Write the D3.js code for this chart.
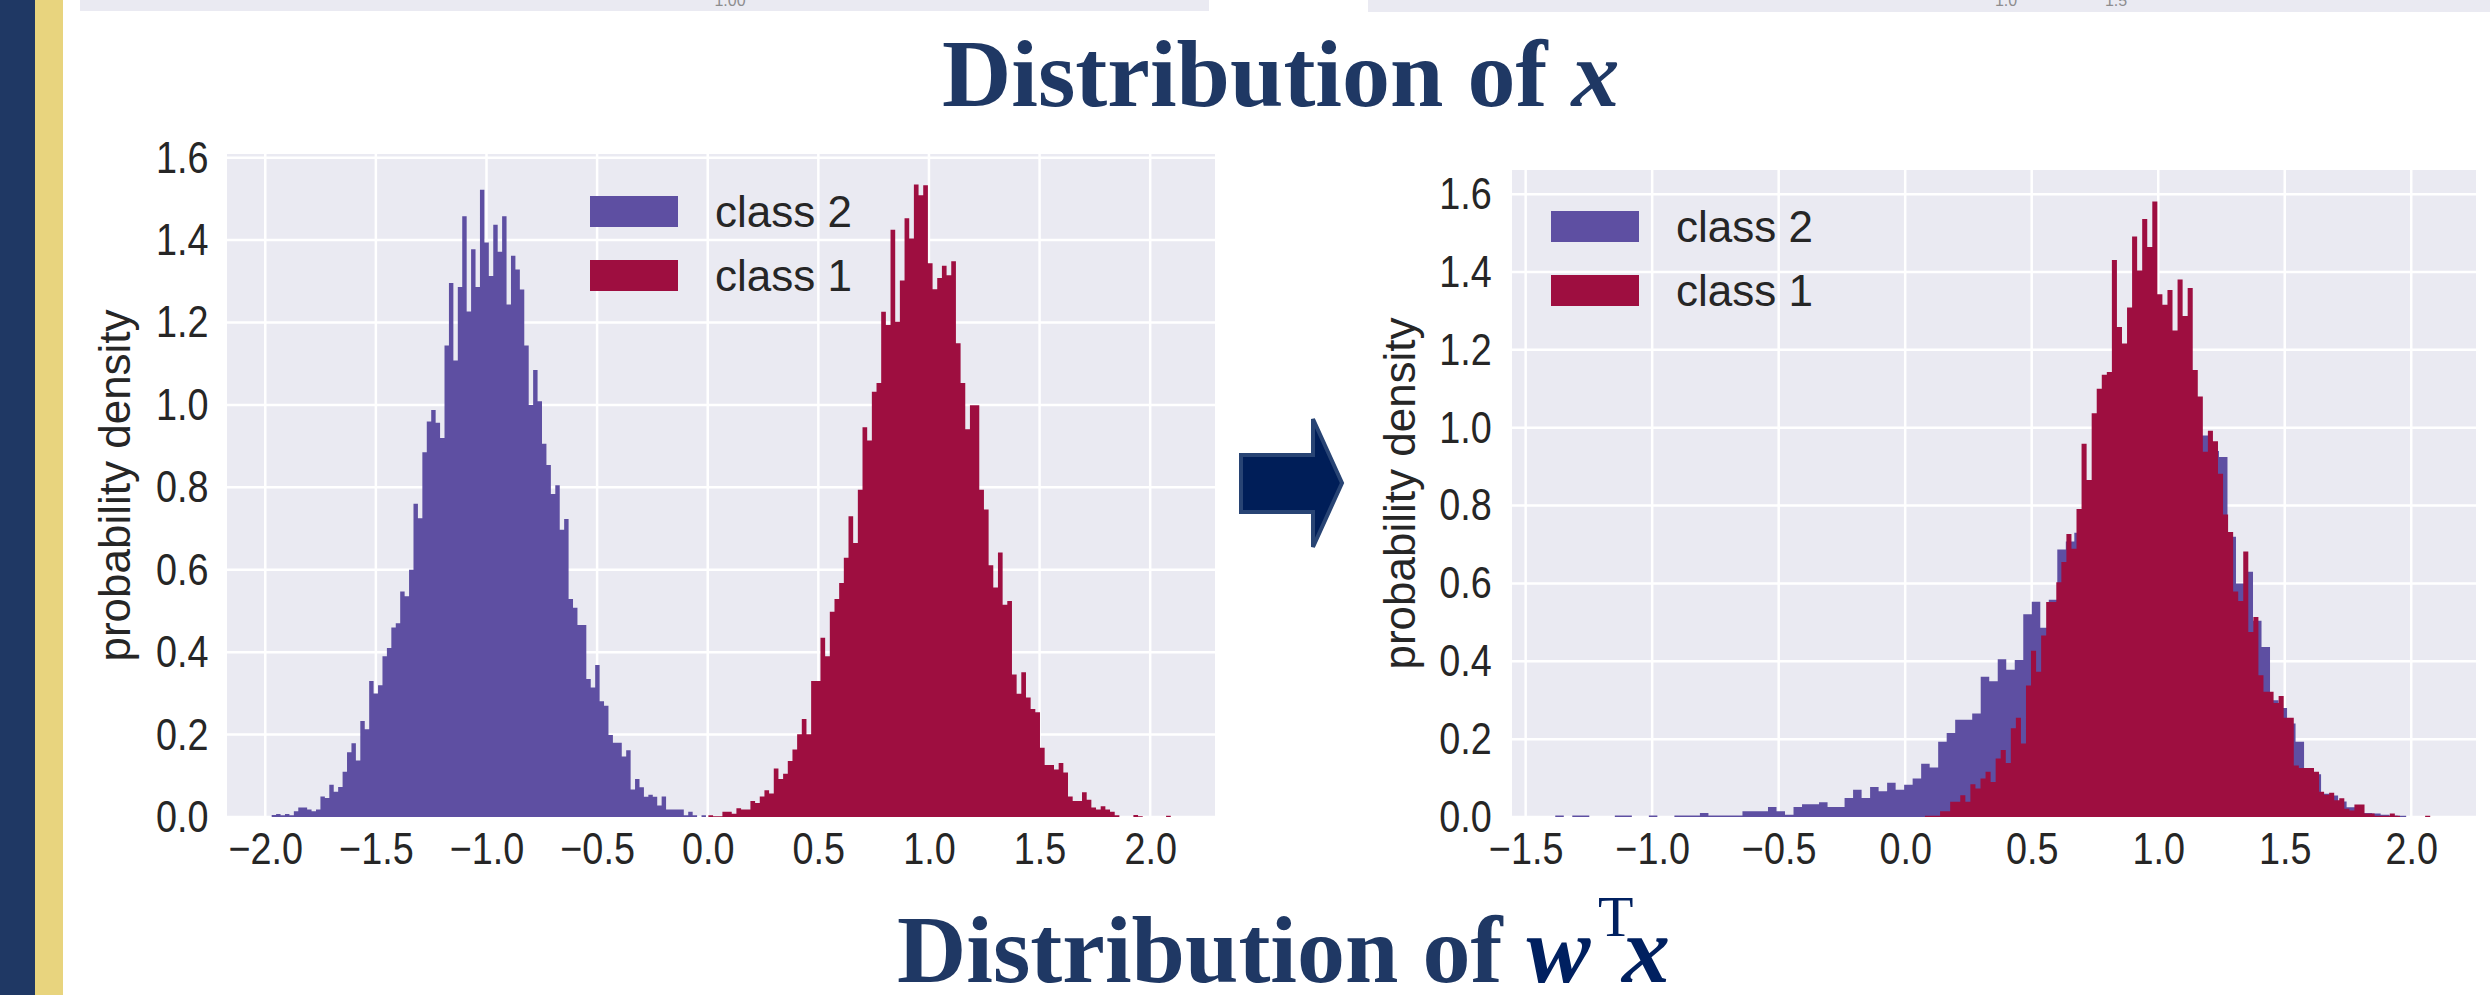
<!DOCTYPE html>
<html>
<head>
<meta charset="utf-8">
<script src="https://cdn.jsdelivr.net/npm/d3@7"></script>
<style>
  body { margin: 0; background: #fff; }
  svg { display: block; }
  .tick text { font-family: "Liberation Sans", Arial, sans-serif; fill: #262626; }
</style>
</head>
<body>
<div id="chart"></div>
<script>
////////////////////////////////////////////////////////////////////
////////////////////////////  Data  ////////////////////////////////
// histogram heights (density), bins evenly spread over each range
const leftClass2Range = [-1.971, -0.008];
const leftClass2 = [
  0.005, 0.007, 0.004, 0.007, 0.004, 0.014, 0.023, 0.023, 0.018, 0.014,
  0.018, 0.05, 0.046, 0.078, 0.061, 0.073, 0.11, 0.157, 0.179, 0.137,
  0.233, 0.213, 0.33, 0.3, 0.32, 0.39, 0.41, 0.46, 0.47, 0.547,
  0.536, 0.6, 0.76, 0.725, 0.885, 0.96, 0.988, 0.957, 0.92, 1.144,
  1.296, 1.108, 1.286, 1.458, 1.227, 1.378, 1.286, 1.522, 1.394, 1.313,
  1.437, 1.372, 1.458, 1.244, 1.362, 1.329, 1.28, 1.144, 1.0, 1.085,
  1.009, 0.906, 0.854, 0.784, 0.805, 0.697, 0.723, 0.529, 0.508, 0.466,
  0.466, 0.335, 0.314, 0.369, 0.281, 0.27, 0.199, 0.18, 0.18, 0.147,
  0.162, 0.067, 0.092, 0.072, 0.049, 0.054, 0.049, 0.028, 0.05, 0.018,
  0.018, 0.018, 0.018, 0.004, 0.013, 0.004, 0, 0.004
];

const leftClass1Range = [0.003, 2.093];
const leftClass1 = [
  0.004, 0.002, 0.002, 0.013, 0.013, 0.008, 0.021, 0.018, 0.018, 0.039,
  0.034, 0.05, 0.065, 0.057, 0.118, 0.092, 0.105, 0.136, 0.164, 0.201,
  0.238, 0.201, 0.33, 0.33, 0.435, 0.39, 0.498, 0.529, 0.568, 0.629,
  0.73, 0.665, 0.794, 0.946, 0.914, 1.032, 1.053, 1.226, 1.194, 1.425,
  1.202, 1.302, 1.453, 1.404, 1.535, 1.509, 1.533, 1.344, 1.281, 1.308,
  1.338, 1.315, 1.349, 1.15, 1.053, 0.941, 0.999, 0.999, 0.794, 0.746,
  0.611, 0.557, 0.642, 0.515, 0.524, 0.346, 0.299, 0.351, 0.29, 0.262,
  0.254, 0.168, 0.126, 0.126, 0.115, 0.131, 0.108, 0.05, 0.039, 0.039,
  0.06, 0.042, 0.023, 0.018, 0.026, 0.018, 0.013, 0.004, 0, 0,
  0, 0.005, 0.002, 0, 0, 0, 0, 0, 0.003
];

const rightClass2Range = [-1.383, 1.98];
const rightClass2 = [
  0.004, 0, 0.004, 0.004, 0, 0, 0, 0.004, 0.004, 0,
  0, 0.004, 0, 0, 0.004, 0.004, 0.004, 0.01, 0.004, 0.004,
  0.004, 0.004, 0.015, 0.015, 0.015, 0.026, 0.015, 0.006, 0.026, 0.033,
  0.033, 0.038, 0.026, 0.026, 0.049, 0.07, 0.049, 0.077, 0.066, 0.088,
  0.07, 0.083, 0.099, 0.137, 0.127, 0.193, 0.216, 0.25, 0.25, 0.266,
  0.36, 0.349, 0.405, 0.378, 0.403, 0.521, 0.553, 0.486, 0.558, 0.687,
  0.708, 0.73, 0.82, 0.85, 0.95, 1.0, 1.05, 1.1, 1.15, 1.15,
  1.15, 1.12, 1.1, 1.08, 1.05, 1.0, 0.98, 0.94, 0.925, 0.72,
  0.6, 0.63, 0.504, 0.437, 0.3, 0.28, 0.24, 0.193, 0.12, 0.11,
  0.06, 0.055, 0.04, 0.025, 0.015, 0.01, 0.009, 0.006, 0.004, 0.003
];

const rightClass1Range = [0.078, 2.075];
const rightClass1 = [
  0.003, 0.003, 0.003, 0.015, 0.015, 0.039, 0.039, 0.056, 0.039, 0.084,
  0.073, 0.099, 0.116, 0.09, 0.15, 0.172, 0.139, 0.228, 0.255, 0.189,
  0.338, 0.427, 0.373, 0.466, 0.552, 0.552, 0.603, 0.655, 0.727, 0.689,
  0.791, 0.959, 0.866, 1.037, 1.1, 1.136, 1.143, 1.431, 1.259, 1.216,
  1.309, 1.491, 1.404, 1.536, 1.464, 1.581, 1.343, 1.316, 1.354, 1.25,
  1.381, 1.287, 1.359, 1.148, 1.08, 0.938, 0.992, 0.965, 0.882, 0.777,
  0.732, 0.579, 0.555, 0.682, 0.475, 0.514, 0.364, 0.322, 0.322, 0.293,
  0.311, 0.255, 0.255, 0.132, 0.126, 0.126, 0.126, 0.116, 0.065, 0.057,
  0.062, 0.043, 0.048, 0.021, 0.017, 0.032, 0.032, 0.009, 0.009, 0.003,
  0.003, 0.003, 0.009, 0.003, 0, 0, 0, 0, 0, 0.003
];

const yTicks = [0, 0.2, 0.4, 0.6, 0.8, 1.0, 1.2, 1.4, 1.6];
const leftXTicks = [-2, -1.5, -1, -0.5, 0, 0.5, 1, 1.5, 2];
const rightXTicks = [-1.5, -1, -0.5, 0, 0.5, 1, 1.5, 2];
const legendLabels = ["class 2", "class 1"];
const colors = { c2: "#5e4fa2", c1: "#9e0e40" };

////////////////////////////////////////////////////////////////////
////////////////////////////  Init  ////////////////////////////////
const W = 2490, H = 995;
const svg = d3.select("#chart").append("svg").attr("width", W).attr("height", H);
svg.append("rect").attr("width", W).attr("height", H).attr("fill", "#fff");

const sans = '"Liberation Sans", Arial, sans-serif';
const serif = '"Liberation Serif", "Times New Roman", serif';

// slide decoration: side bars
svg.append("rect").attr("x", 0).attr("y", 0).attr("width", 35).attr("height", H).attr("fill", "#1f3864");
svg.append("rect").attr("x", 35).attr("y", 0).attr("width", 28).attr("height", H).attr("fill", "#e8d47e");

// remnants of previous figure at the very top (cut off in the slide)
svg.append("rect").attr("x", 80).attr("y", 0).attr("width", 1129).attr("height", 11).attr("fill", "#eaeaf2");
svg.append("rect").attr("x", 1368).attr("y", 0).attr("width", 1122).attr("height", 12).attr("fill", "#eaeaf2");
[["1.00", 730], ["1.0", 2006], ["1.5", 2116]].forEach(([t, px]) => {
  svg.append("text").attr("x", px).attr("y", 6).attr("text-anchor", "middle")
    .attr("font-family", sans).attr("font-size", 16).attr("fill", "#666").attr("opacity", 0.7).text(t);
});

// titles
const title1 = svg.append("text").attr("x", 942).attr("y", 106)
  .attr("font-family", serif).attr("font-size", 96).attr("font-weight", "bold").attr("fill", "#1f3864");
title1.append("tspan").text("Distribution of ");
title1.append("tspan").attr("font-style", "italic").text("x");

const title2 = svg.append("text").attr("x", 897).attr("y", 982)
  .attr("font-family", serif).attr("font-size", 96).attr("font-weight", "bold").attr("fill", "#1f3864");
title2.append("tspan").text("Distribution of ");
title2.append("tspan").attr("font-style", "italic").attr("fill", "#002060").text("w");
title2.append("tspan").attr("x", 1598).attr("y", 936).attr("font-size", 58).attr("font-weight", "normal")
  .attr("fill", "#002060").text("T");
title2.append("tspan").attr("x", 1622).attr("y", 982).attr("font-style", "italic").attr("fill", "#002060").text("x");

// arrow between panels
svg.append("polygon")
  .attr("points", "1241,455 1313,455 1313,419 1342,483 1313,547 1313,512 1241,512")
  .attr("fill", "#001e58").attr("stroke", "#284474").attr("stroke-width", 4).attr("stroke-linejoin", "miter");

////////////////////////////////////////////////////////////////////
////////////////////////////  Panels  //////////////////////////////
function drawPanel(cfg) {
  const g = svg.append("g");
  const x = d3.scaleLinear().domain(cfg.xDomain).range([cfg.left, cfg.right]);
  const y = d3.scaleLinear().domain(cfg.yDomain).range([cfg.bottom, cfg.top]);

  g.append("rect")
    .attr("x", cfg.left).attr("y", cfg.top)
    .attr("width", cfg.right - cfg.left).attr("height", cfg.bottom - cfg.top)
    .attr("fill", "#eaeaf2");

  // grid
  g.selectAll(".vgrid").data(cfg.xTicks).join("line")
    .attr("x1", d => x(d)).attr("x2", d => x(d))
    .attr("y1", cfg.top).attr("y2", cfg.bottom)
    .attr("stroke", "#fff").attr("stroke-width", 2.5);
  g.selectAll(".hgrid").data(yTicks).join("line")
    .attr("x1", cfg.left).attr("x2", cfg.right)
    .attr("y1", d => y(d)).attr("y2", d => y(d))
    .attr("stroke", "#fff").attr("stroke-width", 2.5);

  // histograms as step areas
  const clipId = "clip-" + cfg.id;
  svg.append("clipPath").attr("id", clipId).append("rect")
    .attr("x", cfg.left).attr("y", cfg.top)
    .attr("width", cfg.right - cfg.left).attr("height", cfg.bottom - cfg.top);

  const area = d3.area()
    .curve(d3.curveStepAfter)
    .x(d => x(d[0]))
    .y0(y(0))
    .y1(d => y(d[1]));

  cfg.series.forEach(s => {
    const n = s.values.length;
    const w = (s.range[1] - s.range[0]) / n;
    const pts = s.values.map((v, i) => [s.range[0] + i * w, v]);
    pts.push([s.range[1], s.values[n - 1]]);
    g.append("path").datum(pts)
      .attr("clip-path", `url(#${clipId})`)
      .attr("d", area)
      .attr("fill", s.color);
  });

  // axes (no ticks, labels only, slightly condensed like the source)
  const xAxis = g.append("g")
    .attr("transform", `translate(0,${cfg.bottom})`)
    .call(d3.axisBottom(x).tickValues(cfg.xTicks).tickSize(0).tickPadding(15).tickFormat(d3.format(".1f")));
  xAxis.select(".domain").remove();
  xAxis.selectAll("text").attr("font-size", 45).attr("font-family", sans).attr("transform", "scale(0.84,1)");

  const yAxis = g.append("g")
    .attr("transform", `translate(${cfg.left},0)`)
    .call(d3.axisLeft(y).tickValues(yTicks).tickSize(0).tickPadding(cfg.yPad).tickFormat(d3.format(".1f")));
  yAxis.select(".domain").remove();
  yAxis.selectAll("text").attr("font-size", 45).attr("font-family", sans).attr("transform", "scale(0.84,1)");

  // y label
  g.append("text")
    .attr("transform", `translate(${cfg.labelX},${(cfg.top + cfg.bottom) / 2}) rotate(-90)`)
    .attr("text-anchor", "middle")
    .attr("font-family", sans).attr("font-size", 44).attr("fill", "#262626")
    .text("probability density");

  // legend
  const leg = g.selectAll(".legend").data(legendLabels).join("g")
    .attr("transform", (d, i) => `translate(${cfg.legendX},${cfg.legendY + i * 64})`);
  leg.append("rect").attr("width", 88).attr("height", 31)
    .attr("fill", (d, i) => i === 0 ? colors.c2 : colors.c1);
  leg.append("text").attr("x", 125).attr("y", 31)
    .attr("font-family", sans).attr("font-size", 44).attr("fill", "#262626")
    .text(d => d);
}

drawPanel({
  id: "left",
  left: 227, right: 1215, top: 154, bottom: 817,
  xDomain: [-2.173, 2.293], yDomain: [0, 1.609],
  xTicks: leftXTicks,
  yPad: 22,
  labelX: 130,
  legendX: 590, legendY: 196,
  series: [
    { values: leftClass2, range: leftClass2Range, color: colors.c2 },
    { values: leftClass1, range: leftClass1Range, color: colors.c1 }
  ]
});

drawPanel({
  id: "right",
  left: 1512, right: 2476, top: 170, bottom: 817,
  xDomain: [-1.554, 2.256], yDomain: [0, 1.662],
  xTicks: rightXTicks,
  yPad: 24,
  labelX: 1415,
  legendX: 1551, legendY: 211,
  series: [
    { values: rightClass2, range: rightClass2Range, color: colors.c2 },
    { values: rightClass1, range: rightClass1Range, color: colors.c1 }
  ]
});
</script>
</body>
</html>
